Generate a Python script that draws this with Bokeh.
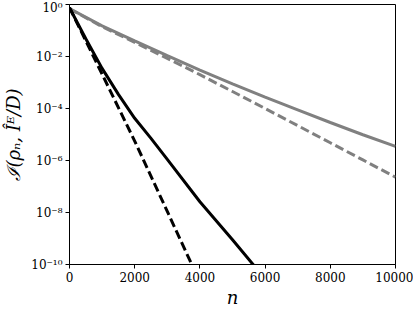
from bokeh.plotting import figure
from bokeh.models import FixedTicker, Range1d
from bokeh.embed import file_html
from bokeh.resources import INLINE

# Data
n_black_solid = [0, 250, 500, 1000, 1500, 2000, 2500, 3000, 4000, 5000, 6000]
v_black_solid = [7.6e-1, 1.9e-1, 4.8e-2, 3.5e-3, 3.5e-4, 4.2e-5, 7.1e-6, 1.1e-6, 2.6e-8, 8.9e-10, 2.8e-11]

n_black_dashed = [0, 1000, 2000, 3000, 3750, 4000]
v_black_dashed = [7.6e-1, 2.1e-3, 5.6e-6, 1.1e-8, 1.0e-10, 2.0e-11]

n_gray_solid = [0, 1000, 2000, 3000, 4000, 5000, 6000, 7000, 8000, 9000, 10000]
v_gray_solid = [6.9e-1, 1.5e-1, 4.0e-2, 1.07e-2, 3.0e-3, 8.9e-4, 2.75e-4, 8.9e-5, 2.9e-5, 9.8e-6, 3.5e-6]

n_gray_dashed = [0, 1000, 2000, 3000, 4000, 5000, 6000, 7000, 8000, 9000, 10000]
v_gray_dashed = [6.9e-1, 1.4e-1, 3.5e-2, 8.5e-3, 2.0e-3, 4.5e-4, 1.0e-4, 2.2e-5, 4.8e-6, 1.05e-6, 2.3e-7]

x_ticks = [0, 2000, 4000, 6000, 8000, 10000]
y_ticks = [1e-10, 1e-8, 1e-6, 1e-4, 1e-2, 1e0]
y_tick_labels = ["10⁻¹⁰", "10⁻⁸", "10⁻⁶", "10⁻⁴", "10⁻²", "10⁰"]

FONT = "DejaVu Serif"

p = figure(frame_width=326, frame_height=260, y_axis_type="log",
           x_range=Range1d(0, 10000), y_range=Range1d(1e-10, 1),
           output_backend="svg", toolbar_location=None,
           min_border_left=60, min_border_right=18, min_border_top=4, min_border_bottom=36)

p.grid.visible = False
p.outline_line_color = "black"
p.outline_line_width = 1
p.background_fill_color = "white"
p.border_fill_color = "white"

p.line(n_gray_solid, v_gray_solid, line_color="#808080", line_width=3)
p.line(n_gray_dashed, v_gray_dashed, line_color="#808080", line_width=3, line_dash="9 4")
p.line(n_black_solid, v_black_solid, line_color="black", line_width=3)
p.line(n_black_dashed, v_black_dashed, line_color="black", line_width=3, line_dash="9 4")

p.xaxis.ticker = FixedTicker(ticks=x_ticks)
p.yaxis.ticker = FixedTicker(ticks=y_ticks)
p.yaxis.major_label_overrides = {t: l for t, l in zip(y_ticks, y_tick_labels)}

for ax in (p.xaxis[0], p.yaxis[0]):
    ax.major_label_text_font = FONT
    ax.major_label_text_font_size = "12px"
    ax.major_label_text_color = "black"
    ax.axis_label_text_font = FONT
    ax.axis_label_text_font_style = "italic"
    ax.axis_label_text_font_size = "18px"
    ax.axis_label_text_color = "black"
    ax.minor_tick_line_color = None
    ax.major_tick_out = 4
    ax.major_tick_in = 0
    ax.axis_line_color = "black"
    ax.major_label_standoff = 3

p.xaxis.axis_label = "n"
p.xaxis.axis_label_standoff = 2
p.yaxis.axis_label = "ℐ(ρₙ, Îᴱ/D)"
p.yaxis.axis_label_standoff = 4

open("out.html", "w").write(file_html(p, INLINE))
